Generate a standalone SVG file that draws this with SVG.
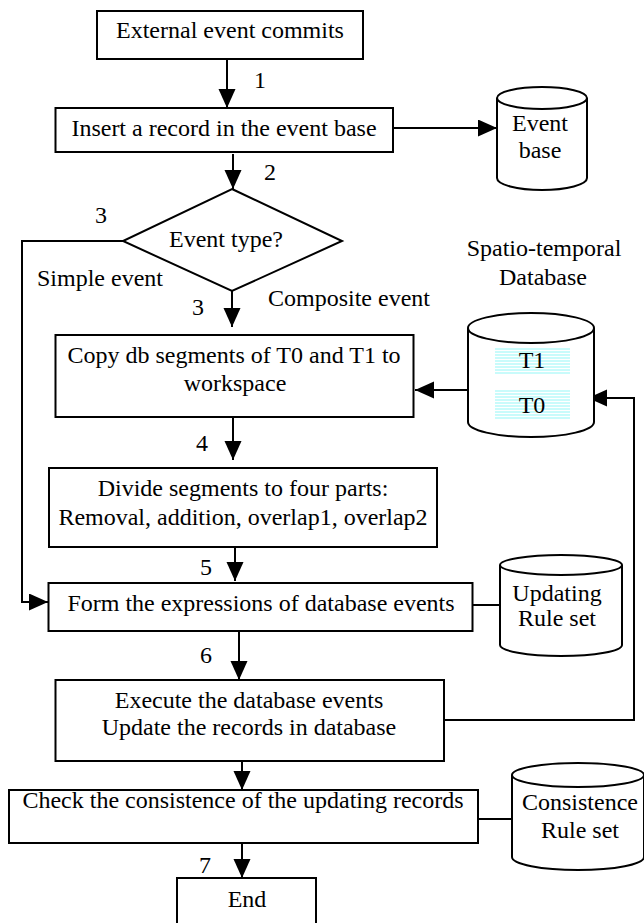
<svg xmlns="http://www.w3.org/2000/svg" width="644" height="923" viewBox="0 0 644 923">
<style>
  .box { fill: #fff; stroke: #000; stroke-width: 2; }
  .cyl { fill: #fff; stroke: #000; stroke-width: 2; }
  .ln { fill: none; stroke: #000; stroke-width: 2; }
  .arr { fill: none; stroke: #000; stroke-width: 2; marker-end: url(#ah); }
  text { font-family: "Liberation Serif", "Times New Roman", serif; font-size: 24px; fill: #000; }
  .c { text-anchor: middle; }
</style>
<defs>
  <marker id="ah" markerUnits="userSpaceOnUse" markerWidth="20" markerHeight="18" refX="19" refY="8.5" orient="auto">
    <path d="M0,0 L19,8.5 L0,17 z" fill="#000"/>
  </marker>
  <pattern id="stripes" patternUnits="userSpaceOnUse" width="6" height="3">
    <rect width="6" height="3" fill="#c9fbfb"/>
    <rect y="2" width="6" height="1" fill="#fff"/>
  </pattern>
</defs>
<rect width="644" height="923" fill="#fff"/>

<g id="connectors">
  <line class="arr" x1="227" y1="59" x2="227" y2="108"/>
  <line class="arr" x1="393" y1="128" x2="497" y2="128"/>
  <line class="arr" x1="233" y1="154" x2="233" y2="189"/>
  <line class="arr" x1="232" y1="291" x2="232" y2="327"/>
  <polyline class="arr" points="123,241 22,241 22,602 48,602"/>
  <line class="arr" x1="468" y1="390" x2="415" y2="390"/>
  <line class="arr" x1="233" y1="417" x2="233" y2="460"/>
  <line class="arr" x1="235" y1="547" x2="235" y2="581"/>
  <line class="ln" x1="472" y1="605" x2="500" y2="605"/>
  <line class="arr" x1="239" y1="631" x2="239" y2="680"/>
  <polyline class="arr" points="444,720 634,720 634,398 588,398"/>
  <line class="arr" x1="242" y1="761" x2="242" y2="790"/>
  <line class="ln" x1="475" y1="819" x2="512" y2="819"/>
  <line class="arr" x1="242" y1="843" x2="242" y2="878"/>
</g>

<g id="labels">
  <text x="260" y="88" class="c">1</text>
  <text x="270" y="180" class="c">2</text>
  <text x="101" y="223" class="c">3</text>
  <text x="100" y="286" class="c">Simple event</text>
  <text x="198" y="315" class="c">3</text>
  <text x="349" y="306" class="c">Composite event</text>
  <text x="544" y="256" class="c">Spatio-temporal</text>
  <text x="543" y="285" class="c">Database</text>
  <text x="202" y="451" class="c">4</text>
  <text x="206" y="575" class="c">5</text>
  <text x="206" y="663" class="c">6</text>
  <text x="205" y="873" class="c">7</text>
</g>

<g id="n-external">
  <rect class="box" x="97" y="11" width="266" height="48"/>
  <text x="230" y="38" class="c">External event commits</text>
</g>

<g id="n-insert">
  <rect class="box" x="55.5" y="108" width="337.5" height="44"/>
  <text x="224" y="136" class="c">Insert a record in the event base</text>
</g>

<g id="n-eventbase">
  <path class="cyl" d="M497,98 L497,178 A45,12 0 0 0 587,178 L587,98"/>
  <ellipse class="cyl" cx="542" cy="98" rx="45" ry="11"/>
  <text x="540" y="131" class="c">Event</text>
  <text x="540" y="158" class="c">base</text>
</g>

<g id="n-eventtype">
  <polygon class="box" points="232,189 342,241 232,291 123,241"/>
  <text x="226" y="247" class="c">Event type?</text>
</g>

<g id="n-stdb">
  <path class="cyl" d="M468,328 L468,422 A63,15 0 0 0 594,422 L594,328"/>
  <ellipse class="cyl" cx="531" cy="328" rx="63" ry="15"/>
  <rect x="495" y="347" width="75" height="28" fill="url(#stripes)"/>
  <rect x="495" y="390" width="75" height="30" fill="url(#stripes)"/>
  <text x="532" y="368" class="c">T1</text>
  <text x="532" y="413" class="c">T0</text>
</g>

<g id="n-copy">
  <rect class="box" x="55.5" y="335" width="358" height="82"/>
  <text x="234" y="363" class="c">Copy db segments of T0 and T1 to</text>
  <text x="235" y="391" class="c">workspace</text>
</g>

<g id="n-divide">
  <rect class="box" x="49" y="468" width="388" height="79"/>
  <text x="243" y="496" class="c">Divide segments to four parts:</text>
  <text x="243" y="525" class="c">Removal, addition, overlap1, overlap2</text>
</g>

<g id="n-form">
  <rect class="box" x="48.5" y="583" width="424" height="48"/>
  <text x="261" y="611" class="c">Form the expressions of database events</text>
</g>

<g id="n-updating">
  <path class="cyl" d="M500,565 L500,645 A61,11 0 0 0 622,645 L622,565"/>
  <ellipse class="cyl" cx="561" cy="565" rx="61" ry="10"/>
  <text x="557" y="601" class="c">Updating</text>
  <text x="557" y="626" class="c">Rule set</text>
</g>

<g id="n-execute">
  <rect class="box" x="55.5" y="680" width="388.5" height="81"/>
  <text x="249" y="708" class="c">Execute the database events</text>
  <text x="249" y="735" class="c">Update the records in database</text>
</g>

<g id="n-check">
  <rect class="box" x="9" y="790" width="469" height="53"/>
  <text x="243" y="808" class="c">Check the consistence of the updating records</text>
</g>

<g id="n-consistence">
  <path class="cyl" d="M512,775 L512,857 A66,13 0 0 0 644,857 L644,775"/>
  <ellipse class="cyl" cx="578" cy="775" rx="66" ry="12"/>
  <text x="580" y="810" class="c">Consistence</text>
  <text x="580" y="838" class="c">Rule set</text>
</g>

<g id="n-end">
  <rect class="box" x="177" y="878" width="139" height="46"/>
  <text x="247" y="907" class="c">End</text>
</g>
</svg>
